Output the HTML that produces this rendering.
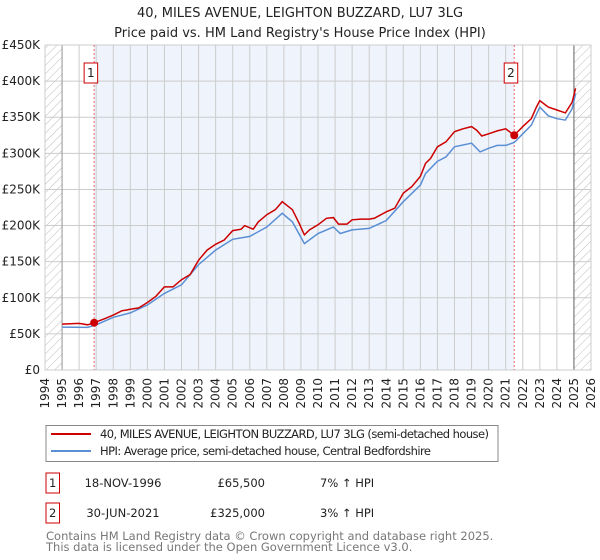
<!DOCTYPE html>
<html><head><meta charset="utf-8"><style>
body{margin:0;background:#fff;font-family:"DejaVu Sans","Liberation Sans",sans-serif;}
#wrap{position:relative;width:600px;height:560px;overflow:hidden;}
svg text{font-family:"DejaVu Sans","Liberation Sans",sans-serif;}
</style></head><body>
<div id="wrap">
<svg id="chart" width="600" height="560"></svg>
</div>
<script>
const years=[];for(let y=1994;y<=2026;y++)years.push(y);
const yTicks=[0,50,100,150,200,250,300,350,400,450];
const yTickLabels=["£0","£50K","£100K","£150K","£200K","£250K","£300K","£350K","£400K","£450K"];
const redDates=[1995.0,1996.0,1996.5,1996.88,1997.5,1998,1998.5,1999,1999.5,2000,2000.5,2001,2001.5,2002,2002.5,2003,2003.5,2004,2004.5,2005,2005.5,2005.7,2006.2,2006.5,2007,2007.5,2007.9,2008.5,2008.9,2009.2,2009.5,2010,2010.5,2010.9,2011.2,2011.7,2012,2012.5,2013,2013.3,2014,2014.5,2015,2015.5,2016,2016.3,2016.6,2017,2017.5,2018,2018.5,2019,2019.3,2019.6,2020,2020.5,2021,2021.5,2022,2022.5,2022.8,2023,2023.5,2024,2024.5,2024.9,2025.1];
const redValues=[63.6,64.5,62.6,65.5,71,76,82,84,86,93.5,102,115,115,125,132,152,166,174,180,193,195,200,195,205,215,222,233,222,203,187,194,201,210,211,202,202,208,209,209,210,219,224,245,254,268,286,293,309,316,330,334,337,332,324,327,331,334,325,337,348,364,373,364,360,356,371,390];
const hpiDates=[1995,1996.5,1997,1998,1999,2000,2001,2002,2003,2004,2005,2006,2007,2007.9,2008.5,2009.2,2010,2010.9,2011.3,2012,2013,2014,2015,2016,2016.3,2017,2017.5,2018,2019,2019.5,2020,2020.5,2021,2021.5,2022,2022.5,2023,2023.5,2024,2024.5,2024.9,2025.1];
const hpiValues=[59.4,59,62.6,73,79,90,106,118,146,166,181,185,198,217,205,175,189,198,189,194,196,207,233,256,272,289,295,309,314,302,307,311,311,315,327,339,364,352,348,346,362,383];
const saleDates=[1996.88,2021.5];
const saleValues=[65.5,325];
const saleLabels=["1","2"];

const L=45,R=591,T=45,B=370;
const x=t=>L+(t-1994)*(R-L)/32;
const y=v=>B-v*(B-T)/450;
const NS="http://www.w3.org/2000/svg";
const svg=document.getElementById('chart');
function mk(tag,attrs,parent){const e=document.createElementNS(NS,tag);for(const k in attrs)e.setAttribute(k,attrs[k]);(parent||svg).appendChild(e);return e;}

const defs=mk('defs',{});
const pat=mk('pattern',{id:'hatch',width:6,height:6,patternUnits:'userSpaceOnUse',patternTransform:'rotate(45)'},defs);
mk('line',{x1:0,y1:0,x2:0,y2:6,stroke:'#bbb','stroke-width':1},pat);

const shade=mk('rect',{x:x(saleDates[0]),y:T,width:x(saleDates[1])-x(saleDates[0]),height:B-T,fill:'#eef3fc'});


const h1=mk('rect',{x:L,y:T,width:x(1995)-L,height:B-T,fill:'url(#hatch)'});


const h2=mk('rect',{x:x(2025),y:T,width:R-x(2025),height:B-T,fill:'url(#hatch)'});



years.forEach(yr=>{const g=mk('line',{x1:x(yr),x2:x(yr),y1:T,y2:B,stroke:'#ccc','stroke-width':1});


const t=mk('text',{x:x(yr),y:B+8,'font-size':12,fill:'#222','text-anchor':'end',transform:`rotate(-90 ${x(yr)} ${B+8})`,'dominant-baseline':'central'});
t.textContent=yr;

});
yTicks.forEach((v,i)=>{const g=mk('line',{x1:L,x2:R,y1:y(v),y2:y(v),stroke:'#ccc','stroke-width':1});


const t=mk('text',{x:L-5,y:y(v)+4,'font-size':12,fill:'#222','text-anchor':'end'});
t.textContent=yTickLabels[i];

});
mk('line',{x1:x(1995),x2:x(1995),y1:T,y2:B,stroke:'#999','stroke-width':1});
mk('line',{x1:x(2025),x2:x(2025),y1:T,y2:B,stroke:'#666','stroke-width':1});
mk('rect',{x:L,y:T,width:R-L,height:B-T,fill:'none',stroke:'#ccc'});

saleDates.forEach((d,i)=>{const l=mk('line',{x1:x(d),x2:x(d),y1:T,y2:B,stroke:'#e66','stroke-width':1,'stroke-dasharray':'2,2'});


const bx=mk('rect',{x:x(d)-10,y:63,width:13.5,height:20,fill:'#fff',stroke:'#c00'});


const t=mk('text',{x:x(d)-3.3,y:77,'font-size':12,'text-anchor':'middle',fill:'#222'});t.textContent=saleLabels[i];

});

function path(ds,vs){return ds.map((d,i)=>(i?'L':'M')+x(d).toFixed(1)+','+y(vs[i]).toFixed(1)).join('');}
const hp=mk('path',{d:path(hpiDates,hpiValues),fill:'none',stroke:'#5b8fd4','stroke-width':1.5});


const rp=mk('path',{d:path(redDates,redValues),fill:'none',stroke:'#cc0000','stroke-width':1.5});


saleDates.forEach((d,i)=>{const c=mk('circle',{cx:x(d),cy:y(saleValues[i]),r:4,fill:'#cc0000'});

});

let t1=mk('text',{x:300,y:17,'font-size':13,'text-anchor':'middle',fill:'#222'});t1.textContent="40, MILES AVENUE, LEIGHTON BUZZARD, LU7 3LG";


let t2=mk('text',{x:300,y:37,'font-size':13,'text-anchor':'middle',fill:'#222'});t2.textContent="Price paid vs. HM Land Registry's House Price Index (HPI)";



const lg=mk('g',{});


mk('rect',{x:46,y:425.5,width:452,height:36,fill:'#fff',stroke:'#888'},lg);
mk('line',{x1:51,x2:91,y1:434,y2:434,stroke:'#cc0000','stroke-width':2},lg);
mk('line',{x1:51,x2:91,y1:451,y2:451,stroke:'#5b8fd4','stroke-width':2},lg);
let l1=mk('text',{x:100,y:438,'font-size':11.5,fill:'#222',textLength:389},lg);l1.textContent="40, MILES AVENUE, LEIGHTON BUZZARD, LU7 3LG (semi-detached house)";


let l2=mk('text',{x:100,y:455,'font-size':11.5,fill:'#222',textLength:331},lg);l2.textContent="HPI: Average price, semi-detached house, Central Bedfordshire";



const rows=[["1","18-NOV-1996","£65,500","7% ↑ HPI",483],["2","30-JUN-2021","£325,000","3% ↑ HPI",513]];
rows.forEach(r=>{const g=mk('g',{});


mk('rect',{x:46,y:r[4]-10,width:13.5,height:20,fill:'#fff',stroke:'#c00'},g);
let a=mk('text',{x:52.7,y:r[4]+4,'font-size':11.5,'text-anchor':'middle',fill:'#222'},g);a.textContent=r[0];
let b=mk('text',{x:123,y:r[4]+4,'font-size':11.5,'text-anchor':'middle',fill:'#222'},g);b.textContent=r[1];
let c=mk('text',{x:265,y:r[4]+4,'font-size':11.5,'text-anchor':'end',fill:'#222'},g);c.textContent=r[2];
let d=mk('text',{x:320,y:r[4]+4,'font-size':11.5,fill:'#222'},g);d.textContent=r[3];});
let f1=mk('text',{x:46,y:540,'font-size':11.5,fill:'#777'});f1.textContent="Contains HM Land Registry data © Crown copyright and database right 2025.";


let f2=mk('text',{x:46,y:551,'font-size':11.5,fill:'#777'});f2.textContent="This data is licensed under the Open Government Licence v3.0.";


</script>
</body></html>
